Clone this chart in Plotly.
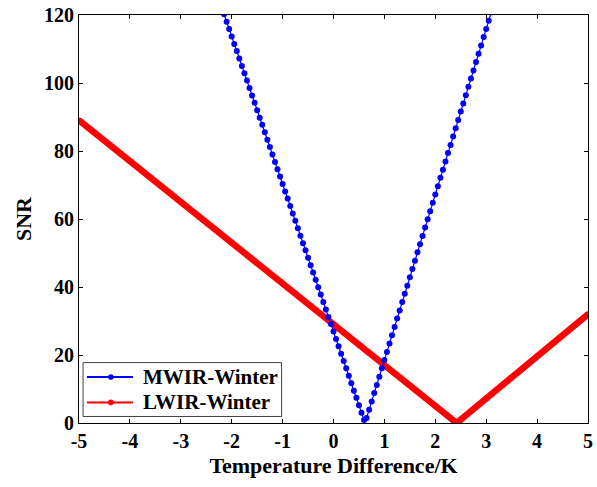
import plotly.graph_objects as go

# MWIR-Winter (blue, dotted markers)
mwir_dt = [-2.20, -2.15, -2.10, -2.05, -2.00, -1.95, -1.90, -1.85, -1.80, -1.75,
           -1.70, -1.65, -1.60, -1.55, -1.50, -1.45, -1.40, -1.35, -1.30, -1.25,
           -1.20, -1.15, -1.10, -1.05, -1.00, -0.95, -0.90, -0.85, -0.80, -0.75,
           -0.70, -0.65, -0.60, -0.55, -0.50, -0.45, -0.40, -0.35, -0.30, -0.25,
           -0.20, -0.15, -0.10, -0.05, 0.00, 0.05, 0.10, 0.15, 0.20, 0.25,
           0.30, 0.35, 0.40, 0.45, 0.50, 0.55, 0.60, 0.65, 0.70, 0.75,
           0.80, 0.85, 0.90, 0.95, 1.00, 1.05, 1.10, 1.15, 1.20, 1.25,
           1.30, 1.35, 1.40, 1.45, 1.50, 1.55, 1.60, 1.65, 1.70, 1.75,
           1.80, 1.85, 1.90, 1.95, 2.00, 2.05, 2.10, 2.15, 2.20, 2.25,
           2.30, 2.35, 2.40, 2.45, 2.50, 2.55, 2.60, 2.65, 2.70, 2.75,
           2.80, 2.85, 2.90, 2.95, 3.00, 3.05, 3.10, 3.15]
mwir_snr = [122.4, 120.2, 118.0, 115.9, 113.7, 111.5, 109.4, 107.2, 105.0, 102.9,
            100.7, 98.5, 96.3, 94.2, 92.0, 89.8, 87.7, 85.5, 83.3, 81.2,
            79.0, 76.8, 74.6, 72.5, 70.3, 68.1, 66.0, 63.8, 61.6, 59.5,
            57.3, 55.1, 52.9, 50.8, 48.6, 46.4, 44.3, 42.1, 39.9, 37.8,
            35.6, 33.4, 31.2, 29.1, 26.9, 24.7, 22.6, 20.4, 18.2, 16.1,
            13.9, 11.7, 9.5, 7.4, 5.2, 3.0, 0.9, 1.5, 3.9, 6.3,
            8.8, 11.2, 13.6, 16.1, 18.5, 20.9, 23.4, 25.8, 28.2, 30.7,
            33.1, 35.6, 38.0, 40.4, 42.9, 45.3, 47.7, 50.2, 52.6, 55.0,
            57.5, 59.9, 62.3, 64.8, 67.2, 69.6, 72.1, 74.5, 76.9, 79.4,
            81.8, 84.3, 86.7, 89.1, 91.6, 94.0, 96.4, 98.9, 101.3, 103.7,
            106.2, 108.6, 111.0, 113.5, 115.9, 118.3, 120.8, 123.2]

# LWIR-Winter (red, thick)
lwir_dt = [-5, -4, -3, -2, -1, 0, 1, 2, 2.42, 3, 4, 5]
lwir_snr = [89.0, 77.0, 65.0, 53.0, 41.0, 29.0, 17.0, 5.0, 0.0, 7.2, 19.6, 32.0]

series_names = ["MWIR-Winter", "LWIR-Winter"]
series_colors = ["#0000FF", "#FF0000"]

x_ticks = [-5, -4, -3, -2, -1, 0, 1, 2, 3, 4, 5]
y_ticks = [0, 20, 40, 60, 80, 100, 120]

FONT = "Liberation Serif"

fig = go.Figure()
fig.add_trace(go.Scatter(x=lwir_dt, y=lwir_snr, mode="lines+markers",
                         name=series_names[1], showlegend=False,
                         line=dict(color=series_colors[1], width=6.5),
                         marker=dict(color=series_colors[1], size=6)))
fig.add_trace(go.Scatter(x=mwir_dt, y=mwir_snr, mode="lines+markers",
                         name=series_names[0], showlegend=False,
                         line=dict(color=series_colors[0], width=1.2),
                         marker=dict(color=series_colors[0], size=6)))

axis_common = dict(showline=True, linecolor="black", linewidth=1, mirror="ticks",
                   ticks="inside", ticklen=4, tickcolor="black", tickwidth=1,
                   showgrid=False, zeroline=False, automargin=False,
                   ticklabeloverflow="allow",
                   tickfont=dict(family=FONT, size=20, color="black", weight="bold"))

fig.update_xaxes(range=[-5, 5], tickvals=x_ticks, ticktext=[str(v) for v in x_ticks],
                 title=dict(text="<b>Temperature Difference/K</b>", standoff=6,
                            font=dict(family=FONT, size=22, color="black")),
                 **axis_common)
fig.update_yaxes(range=[0, 120], tickvals=y_ticks, ticktext=[str(v) for v in y_ticks],
                 title=dict(text="<b>SNR</b>", standoff=6,
                            font=dict(family=FONT, size=22, color="black")),
                 **axis_common)

# MATLAB-style compact legend box (lower-left), built in paper coordinates
box = dict(x0=0.008, x1=0.398, y0=0.016, y1=0.148)
row_y = [0.1127, 0.0505]
sample_x = (0.0157, 0.1062)
marker_x = 0.0626
text_x = 0.1214

shapes = [dict(type="rect", xref="paper", yref="paper", layer="above",
               line=dict(color="#404040", width=1), fillcolor="white", **box)]
annotations = []
for name, color, ry in zip(series_names, series_colors, row_y):
    shapes.append(dict(type="line", xref="paper", yref="paper", layer="above",
                       x0=sample_x[0], x1=sample_x[1], y0=ry, y1=ry,
                       line=dict(color=color, width=2)))
    shapes.append(dict(type="circle", xref="paper", yref="paper", layer="above",
                       xsizemode="pixel", ysizemode="pixel",
                       xanchor=marker_x, yanchor=ry,
                       x0=-2.8, x1=2.8, y0=-2.8, y1=2.8,
                       line=dict(color=color, width=0), fillcolor=color))
    annotations.append(dict(xref="paper", yref="paper", x=text_x, y=ry,
                            xanchor="left", yanchor="middle", showarrow=False,
                            text="<b>" + name + "</b>",
                            font=dict(family=FONT, size=21, color="black")))

fig.update_layout(
    width=597, height=487,
    margin=dict(l=79, r=9, t=15, b=64),
    paper_bgcolor="white", plot_bgcolor="white",
    font=dict(family=FONT, color="black"),
    showlegend=False,
    shapes=shapes, annotations=annotations,
)

# remove the browser's default 8px body margin so the figure fills the window
fig.write_html("out.html", config={"displayModeBar": False},
               post_script="document.body.style.margin='0px';")
